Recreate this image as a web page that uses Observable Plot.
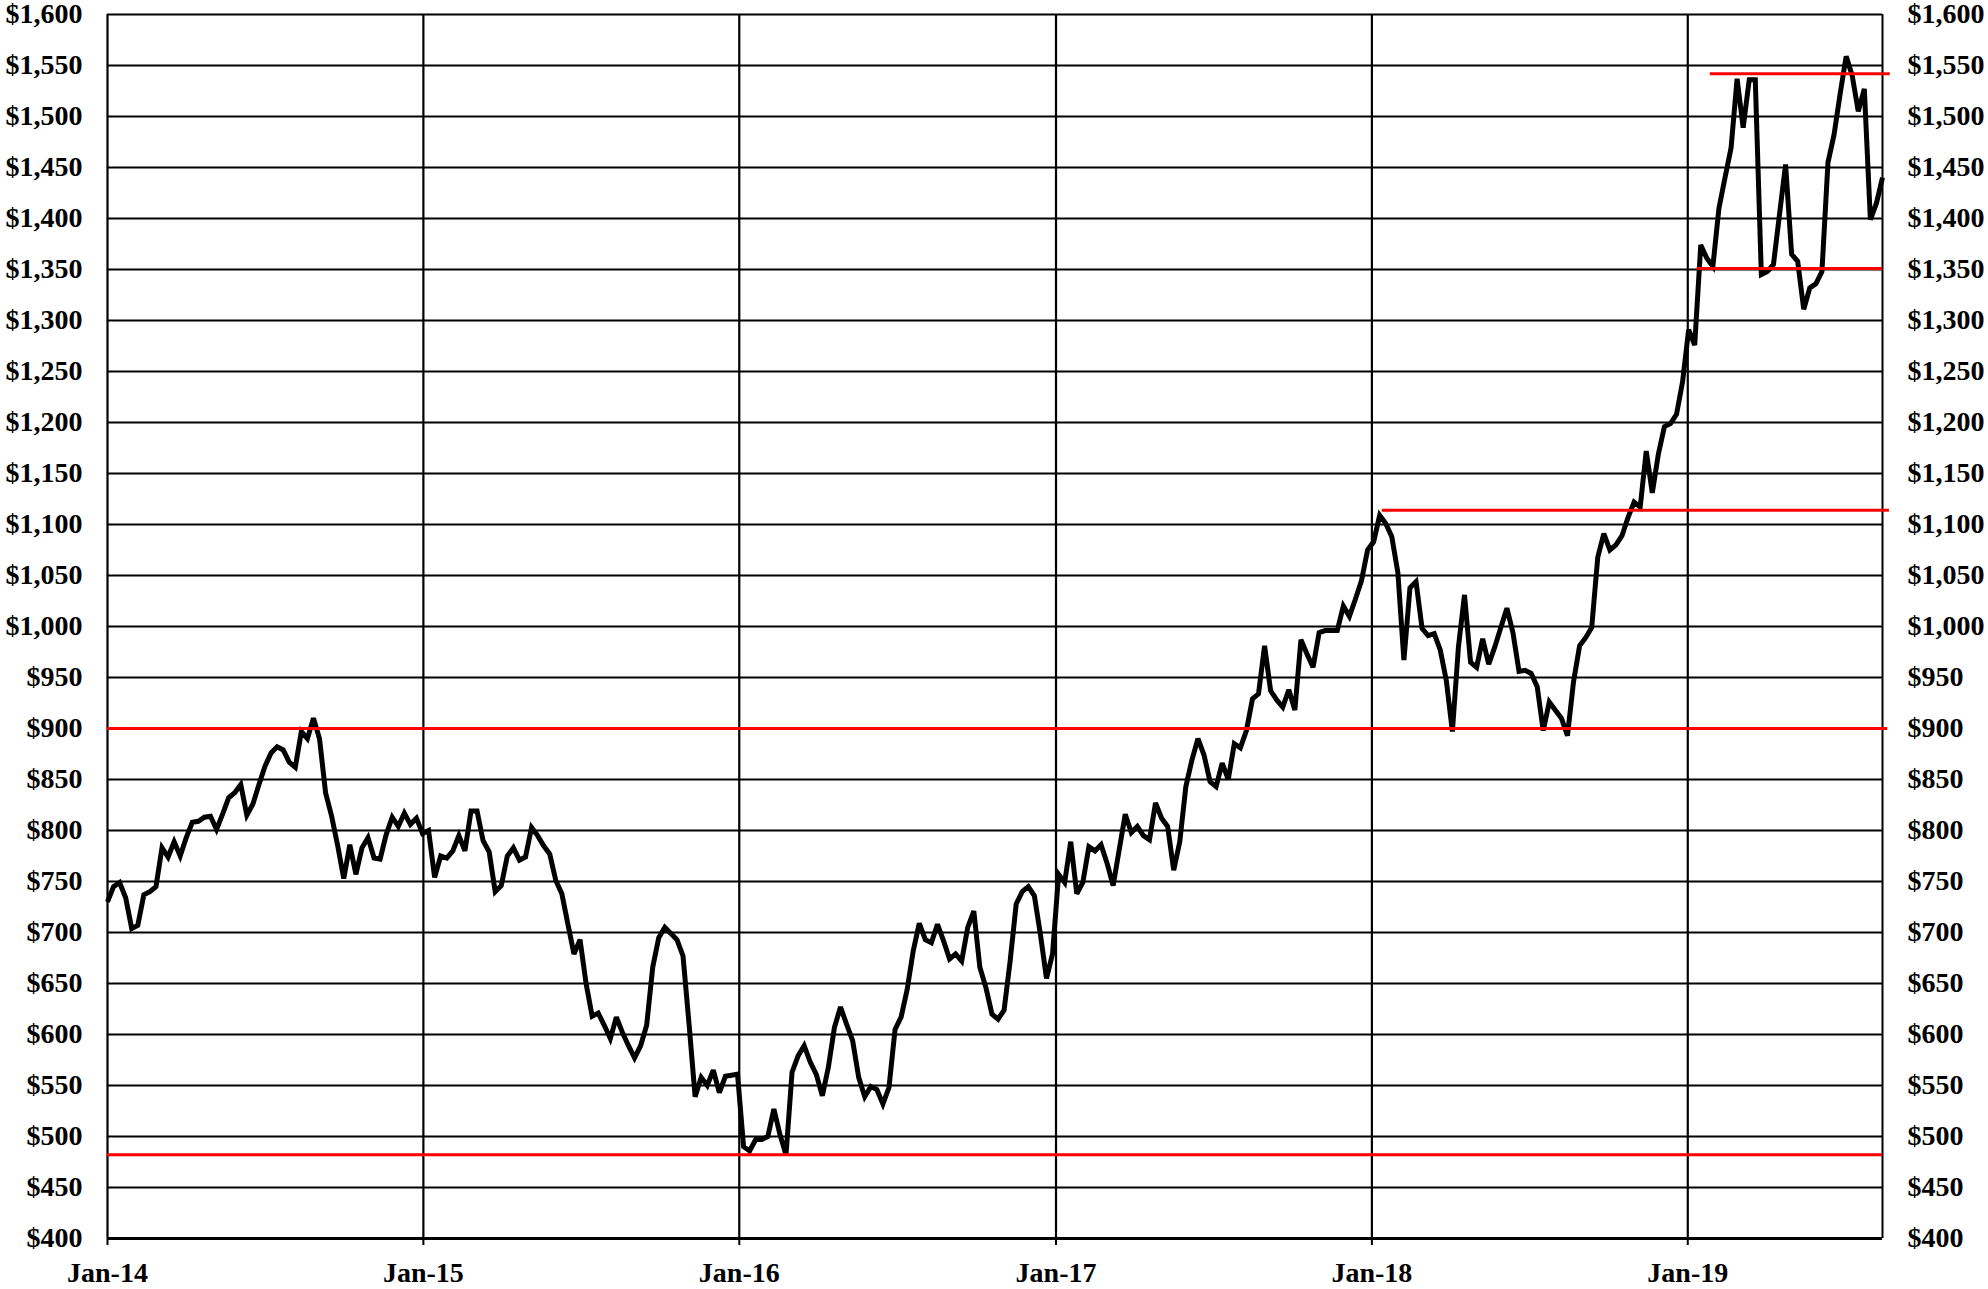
<!DOCTYPE html>
<html>
<head>
<meta charset="utf-8">
<script src="https://cdn.jsdelivr.net/npm/d3@7"></script>
<script src="https://cdn.jsdelivr.net/npm/@observablehq/plot@0.6"></script>
<style>
  html, body { margin: 0; padding: 0; background: #fff; }
  #chart svg { display: block; }
</style>
</head>
<body>
<div id="chart"></div>
<script>
// Weekly prices, first point on 2014-01-01
const startDate = "2014-01-01";
const endDate = "2019-08-14";
const y2014 = [730, 745, 749, 734, 704, 707, 737, 740, 745, 783, 774, 789, 775, 793, 808, 809, 813, 814, 801, 816, 832, 837, 845, 815, 826, 845, 863, 876, 882, 879, 867, 862, 897, 890, 910, 890, 837, 814, 785, 753, 786, 757, 783, 793, 773, 772, 796, 813, 804, 817, 806, 812];
const y2015 = [797, 800, 754, 775, 773, 780, 795, 780, 819, 819, 790, 779, 740, 746, 775, 783, 771, 774, 803, 795, 785, 777, 751, 738, 708, 679, 693, 650, 618, 621, 609, 596, 617, 602, 589, 577, 589, 609, 666, 695, 705, 699, 693, 677, 610, 539, 558, 550, 565, 543, 559, 560, 561];
const y2016 = [490, 486, 497, 497, 500, 527, 502, 482, 563, 579, 589, 573, 561, 540, 568, 607, 627, 610, 594, 558, 539, 549, 546, 532, 548, 605, 617, 644, 682, 709, 693, 690, 708, 692, 674, 679, 672, 705, 721, 666, 646, 620, 615, 624, 672, 728, 740, 745, 736, 698, 655, 679];
const y2017 = [757, 749, 789, 738, 749, 784, 780, 786, 768, 746, 781, 816, 798, 804, 795, 791, 827, 812, 804, 761, 789, 843, 869, 890, 874, 848, 843, 866, 850, 885, 881, 898, 929, 934, 981, 937, 928, 921, 938, 918, 987, 973, 960, 994, 996, 996, 996, 1020, 1010, 1027, 1045, 1075];
const y2018 = [1083, 1109, 1101, 1088, 1053, 967, 1038, 1044, 998, 991, 993, 977, 947, 897, 980, 1031, 965, 960, 988, 963, 980, 999, 1018, 994, 956, 957, 954, 941, 898, 926, 918, 910, 893, 946, 981, 989, 999, 1068, 1091, 1075, 1080, 1089, 1107, 1122, 1117, 1172, 1131, 1169, 1196, 1199, 1208, 1240];
const y2019 = [1291, 1276, 1374, 1361, 1353, 1410, 1440, 1469, 1537, 1489, 1536, 1536, 1345, 1348, 1355, 1404, 1453, 1365, 1358, 1311, 1332, 1336, 1348, 1455, 1482, 1522, 1559, 1540, 1505, 1527, 1399, 1415, 1440];

const yTicks = [400, 450, 500, 550, 600, 650, 700, 750, 800, 850, 900, 950, 1000, 1050, 1100, 1150, 1200, 1250, 1300, 1350, 1400, 1450, 1500, 1550, 1600];
const xTicks = ["2014-01-01", "2015-01-01", "2016-01-01", "2017-01-01", "2018-01-01", "2019-01-01"];

// Horizontal red levels
const levelValues = [482, 900, 1114, 1542, 1351];
const levelStarts = ["2014-01-01", "2014-01-01", "2018-01-13", "2019-01-27", "2019-01-12"];
const levelEnds   = ["2019-08-14", "2019-08-20", "2019-08-22", "2019-08-23", "2019-08-14"];

const prices = [...y2014, ...y2015, ...y2016, ...y2017, ...y2018, ...y2019];
const start = new Date(startDate + "T00:00:00Z");
const data = prices.map((v, i) => ({date: d3.utcDay.offset(start, 7 * i), value: v}));
const xTickDates = xTicks.map(s => new Date(s + "T00:00:00Z"));
const levels = levelValues.map((v, i) => ({
  y: v,
  x1: new Date(levelStarts[i] + "T00:00:00Z"),
  x2: new Date(levelEnds[i] + "T00:00:00Z")
}));
const x0 = start, x1 = new Date(endDate + "T00:00:00Z");

const font = "'Liberation Serif', 'Times New Roman', Times, serif";

const chart = Plot.plot({
  width: 1988,
  height: 1289,
  marginLeft: 107,
  marginRight: 106,
  marginTop: 14,
  marginBottom: 51,
  style: {fontFamily: font, fontSize: "28px", fontWeight: "bold", color: "#000", background: "#fff", overflow: "visible"},
  x: {type: "utc", domain: [x0, x1]},
  y: {domain: [400, 1600]},
  marks: [
    Plot.ruleY(yTicks, {y: d => d, stroke: "#000", strokeWidth: 2.2}),
    Plot.ruleX(xTickDates, {x: d => d, stroke: "#000", strokeWidth: 2.2}),
    Plot.ruleX([x1], {x: d => d, stroke: "#000", strokeWidth: 2}),
    Plot.ruleY([400], {y: d => d, stroke: "#000", strokeWidth: 3}),
    Plot.line(data, {x: "date", y: "value", stroke: "#000", strokeWidth: 5, strokeLinejoin: "miter", strokeMiterlimit: 3, strokeLinecap: "butt"}),
    Plot.ruleY(levels, {y: "y", x1: "x1", x2: "x2", stroke: "#ff0000", strokeWidth: 3}),
    Plot.axisY({anchor: "left", ticks: yTicks, tickSize: 0, tickPadding: 25, tickFormat: d3.format("$,"), label: null, fontSize: 28, fontWeight: "bold"}),
    Plot.axisY({anchor: "right", ticks: yTicks, tickSize: 0, tickPadding: 25, tickFormat: d3.format("$,"), label: null, fontSize: 28, fontWeight: "bold"}),
    Plot.axisX({ticks: xTickDates, tickSize: 7, tickPadding: 17, tickFormat: d3.utcFormat("%b-%y"), label: null, fontSize: 28, fontWeight: "bold", strokeWidth: 2})
  ]
});
document.getElementById("chart").appendChild(chart);
</script>
</body>
</html>
